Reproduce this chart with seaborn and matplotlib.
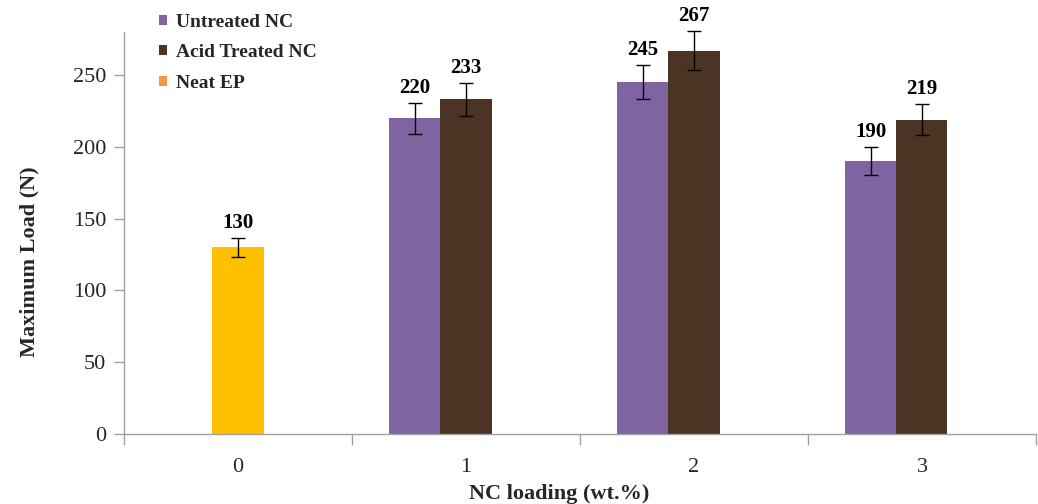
import matplotlib
matplotlib.use("Agg")
import matplotlib.pyplot as plt
from matplotlib.ticker import FixedLocator
import seaborn as sns
import pandas as pd

# ---- data ----
categories = ["0", "1", "2", "3"]
nc_loading = ["1", "2", "3"]
untreated = [220, 245, 190]
untreated_err = [10.8, 12.0, 9.7]
acid = [233, 267, 219]
acid_err = [11.4, 13.4, 11.0]
neat_cat = ["0"]
neat = [130]
neat_err = [6.5]
series = ["Untreated NC", "Acid Treated NC", "Neat EP"]
yticks = [0, 50, 100, 150, 200, 250]

colors = {"Untreated NC": "#8064A2", "Acid Treated NC": "#4C3424", "Neat EP": "#F79646"}
neat_bar_color = "#FFC000"

df = pd.DataFrame({
    "loading": nc_loading * 2,
    "load": untreated + acid,
    "err": untreated_err + acid_err,
    "series": ["Untreated NC"] * 3 + ["Acid Treated NC"] * 3,
})
df_neat = pd.DataFrame({"loading": neat_cat, "load": neat, "err": neat_err})

sns.set_style("white")
plt.rcParams["font.family"] = ["Liberation Serif", "DejaVu Serif"]

fig = plt.figure(figsize=(10.38, 5.04), dpi=100)
ax = fig.add_axes([0.1195, 0.139, 0.8785, 0.7975])

bar_w = 0.672
sns.barplot(data=df, x="loading", y="load", hue="series", order=categories,
            hue_order=series, palette=colors, width=bar_w, errorbar=None,
            saturation=1, linewidth=0, ax=ax, legend=True)
sns.barplot(data=df_neat, x="loading", y="load", order=categories,
            color=neat_bar_color, width=bar_w / 3, errorbar=None,
            saturation=1, linewidth=0, ax=ax)

# error bars & value labels from bar geometry
lookup = []
for _, r in df.iterrows():
    lookup.append((r["load"], r["err"]))
for _, r in df_neat.iterrows():
    lookup.append((r["load"], r["err"]))

for p in ax.patches:
    h = p.get_height()
    if h <= 0:
        continue
    xc = p.get_x() + p.get_width() / 2
    match = [(v, e) for v, e in lookup if abs(v - h) < 1e-6]
    if not match:
        continue
    v, e = match[0]
    eb = ax.errorbar(xc, v, yerr=e, fmt="none", ecolor="black", elinewidth=1.0,
                     capsize=5, capthick=1.0, zorder=5)
    for art in eb.lines[1] + eb.lines[2]:
        art.set_clip_on(False)
    ax.text(xc, v + e + 3.5, f"{int(v)}", ha="center", va="bottom",
            fontsize=15, fontweight="bold", color="black")

ax.set_ylim(0, 280)
ax.set_xlim(-0.5, 3.5)
ax.set_yticks(yticks)
ax.set_yticklabels([str(t) for t in yticks], fontsize=16)
ax.set_xticks(range(len(categories)))
ax.set_xticklabels(categories, fontsize=16)
ax.xaxis.set_minor_locator(FixedLocator([-0.5, 0.5, 1.5, 2.5, 3.5]))
ax.tick_params(axis="x", which="major", length=0, pad=17)
ax.tick_params(axis="x", which="minor", length=8, width=1, color="#A0A0A0", direction="out", bottom=True)
ax.tick_params(axis="y", length=7, width=1, color="#A0A0A0", direction="out", left=True, pad=6)

for s in ["top", "right"]:
    ax.spines[s].set_visible(False)
for s in ["left", "bottom"]:
    ax.spines[s].set_color("#A0A0A0")
    ax.spines[s].set_linewidth(1)

ax.set_xlabel("NC loading (wt.%)", fontsize=16, fontweight="bold")
ax.set_ylabel("Maximum Load (N)", fontsize=16, fontweight="bold")
ax.xaxis.set_label_coords(0.477, -0.124)
ax.yaxis.set_label_coords(-0.104, 0.428)
ax.yaxis.label.set_verticalalignment("center")

leg = ax.legend(loc="upper left", bbox_to_anchor=(0.153, 0.972), bbox_transform=fig.transFigure,
                frameon=False, fontsize=14, handlelength=0.42, handleheight=0.42,
                handletextpad=0.45, labelspacing=0.68, borderaxespad=0, borderpad=0)
for t in leg.get_texts():
    t.set_fontweight("bold")

fig.savefig("out.png", dpi=100)
